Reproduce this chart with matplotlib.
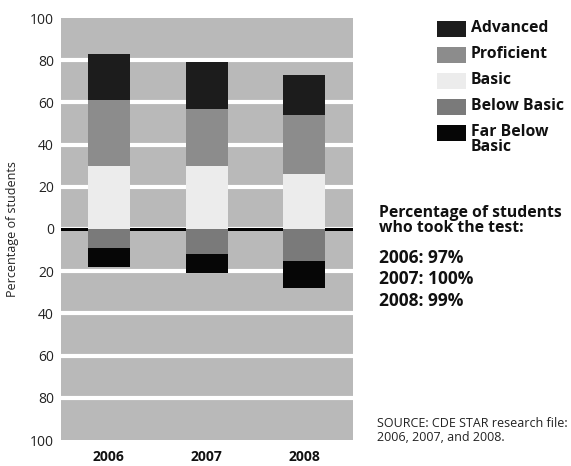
import matplotlib.pyplot as plt
from matplotlib.patches import Rectangle

plt.rcParams["font.family"] = ["Open Sans", "DejaVu Sans"]

years = ["2006", "2007", "2008"]
advanced = [22, 22, 19]
proficient = [31, 27, 28]
basic = [30, 30, 26]
below_basic = [9, 12, 15]
far_below_basic = [9, 9, 13]
tested = ["97%", "100%", "99%"]

levels = ["Advanced", "Proficient", "Basic", "Below Basic", "Far Below\nBasic"]
colors = ["#1c1c1c", "#8c8c8c", "#ececec", "#7a7a7a", "#060606"]
bg = "#b9b9b9"

W, H = 571, 466
fig = plt.figure(figsize=(W / 100, H / 100), dpi=100)


def px(x, y):
    # pixel position (from top-left) to figure fraction
    return x / W, 1 - y / H


ax = fig.add_axes([61 / W, 1 - 440 / H, (353 - 61) / W, (440 - 18) / H])
ax.set_facecolor(bg)
for s in ax.spines.values():
    s.set_visible(False)

x = list(range(len(years)))
w = 0.43

# positive stack: basic, proficient, advanced
ax.bar(x, basic, w, color=colors[2], zorder=3)
ax.bar(x, proficient, w, bottom=basic, color=colors[1], zorder=3)
top2 = [b + p for b, p in zip(basic, proficient)]
ax.bar(x, advanced, w, bottom=top2, color=colors[0], zorder=3)

# negative stack: below basic, far below basic
neg_bb = [-v for v in below_basic]
ax.bar(x, neg_bb, w, color=colors[3], zorder=3)
ax.bar(x, [-v for v in far_below_basic], w, bottom=neg_bb, color=colors[4], zorder=3)

ax.axhline(0, color="black", lw=2.2, zorder=2)
for g in range(-80, 100, 20):
    ax.axhline(g, color="white", lw=3, zorder=1)

ax.set_xlim(-0.49, 2.5)
ax.set_ylim(-100, 100)
yt = list(range(-100, 101, 20))
ax.set_yticks(yt)
ax.set_yticklabels([str(abs(v)) for v in yt], fontsize=10, color="#222222")
ax.set_xticks(x)
ax.set_xticklabels(years, fontsize=10, fontweight="bold", color="#111111")
ax.tick_params(axis="y", length=0, pad=5)
ax.tick_params(axis="x", length=0, pad=7)

fig.text(*px(13, 229), "Percentage of students", rotation=90,
         ha="center", va="center", fontsize=9, color="#222222")

# legend
rows = [29, 55, 81, 107, 133]
for lab, c, yc in zip(levels, colors, rows):
    x0, y0 = px(437, yc + 8)
    fig.add_artist(Rectangle((x0, y0), 29 / W, 16 / H, transform=fig.transFigure,
                             facecolor=c, edgecolor="none"))
    fig.text(*px(471, yc - 9), lab, ha="left", va="top", fontsize=11.3,
             fontweight="bold", linespacing=0.9, color="#111111")

fig.text(*px(379, 205), "Percentage of students\nwho took the test:",
         ha="left", va="top", fontsize=11.3, fontweight="bold",
         linespacing=0.95, color="#111111")
for i, (yr, t) in enumerate(zip(years, tested)):
    fig.text(*px(379, 258 + 21.5 * i), f"{yr}: {t}", ha="left", va="center",
             fontsize=12.5, fontweight="bold", color="#111111")

fig.text(*px(377, 417), "SOURCE: CDE STAR research file:\n2006, 2007, and 2008.",
         ha="left", va="top", fontsize=9, linespacing=1.1, color="#222222")

fig.savefig("out.png", dpi=100)
